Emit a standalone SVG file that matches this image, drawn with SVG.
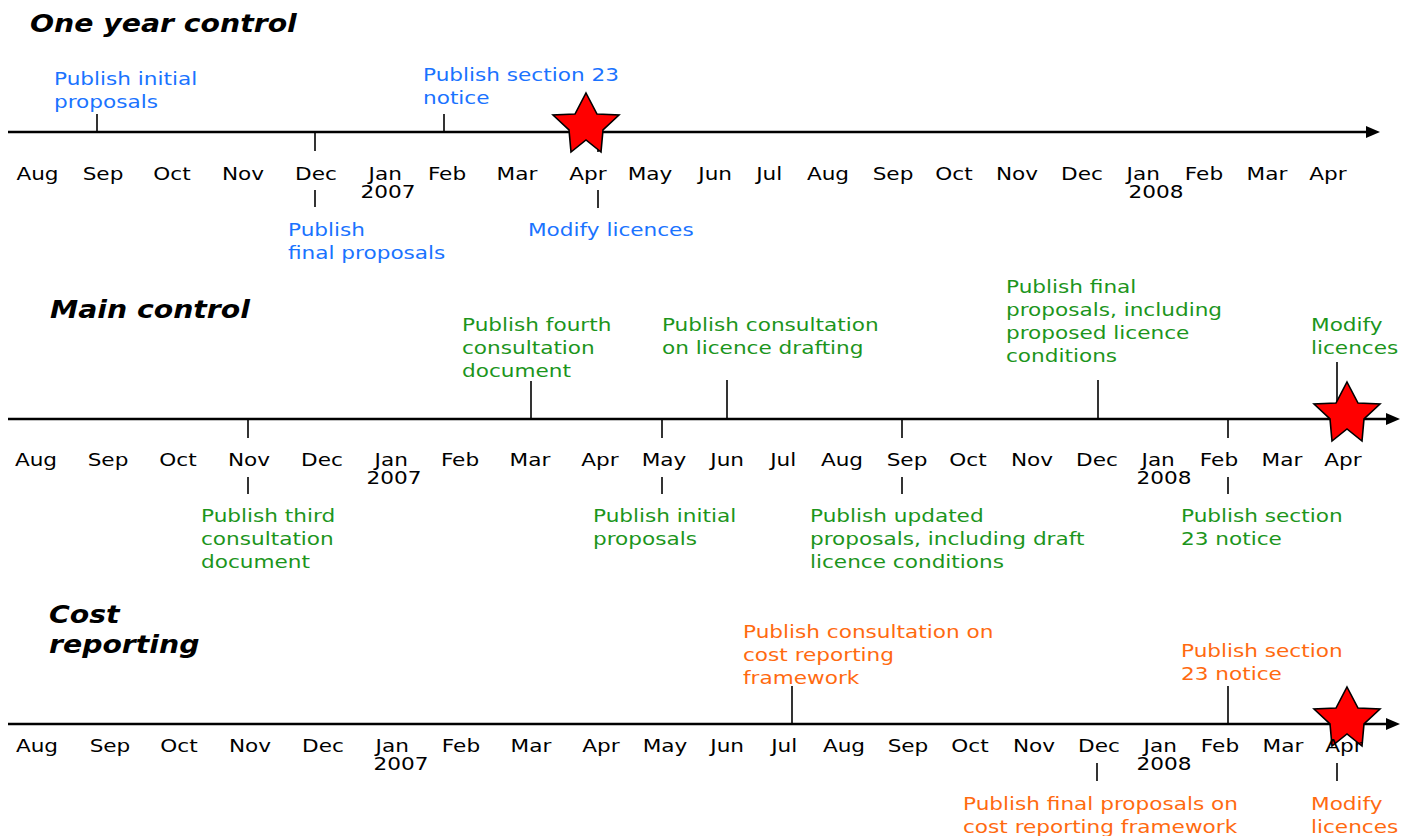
<svg xmlns="http://www.w3.org/2000/svg" width="1402" height="836" viewBox="0 0 1402 836">
<style>
text{font-family:"DejaVu Sans","Verdana",sans-serif;}
.t{font-size:24px;font-weight:bold;font-style:italic;fill:#000;transform-box:fill-box;transform-origin:0 50%;transform:scaleX(1.18);}
.m{font-size:18px;fill:#000;text-anchor:middle;transform-box:fill-box;transform-origin:50% 50%;transform:scaleX(1.2);}
.l{font-size:18px;transform-box:fill-box;transform-origin:0 50%;transform:scaleX(1.2);}
.b{fill:#1a73ff;}
.g{fill:#1c951c;}
.o{fill:#ff6a10;}
.ax{stroke:#000;stroke-width:2.6;fill:none;marker-end:url(#arr);}
.tk{stroke:#000;stroke-width:1.6;fill:none;}
.star{fill:#ff0000;stroke:#000;stroke-width:1.6;stroke-linejoin:miter;}
</style>
<defs>
<marker id="arr" markerUnits="userSpaceOnUse" markerWidth="16" markerHeight="14" refX="2" refY="6" orient="auto">
<path d="M0,0 L14,6 L0,12 Z" fill="#000"/>
</marker>
<path id="starShape" class="star" d="M0,-31 L11,-10 L33,-9 L17,6 L15,28 L0,16 L-15,28 L-17,6 L-33,-9 L-11,-10 Z"/>
</defs>
<rect width="1402" height="836" fill="#fff"/>

<!-- Titles -->
<g id="title-one-year"><text class="t" x="30" y="32">One year control</text></g>
<g id="title-main"><text class="t" x="50" y="318">Main control</text></g>
<g id="title-cost"><text class="t" x="49" y="623">Cost</text><text class="t" x="49" y="653">reporting</text></g>

<!-- Connectors: axes and ticks -->
<g id="connectors">
<line class="ax" x1="8" y1="132" x2="1368" y2="132"/>
<line class="ax" x1="8" y1="419" x2="1388" y2="419"/>
<line class="ax" x1="8" y1="724" x2="1388" y2="724"/>
<!-- row 1 -->
<line class="tk" x1="97" y1="114" x2="97" y2="132"/>
<line class="tk" x1="444" y1="114" x2="444" y2="132"/>
<line class="tk" x1="315" y1="132" x2="315" y2="151"/>
<line class="tk" x1="315" y1="190" x2="315" y2="207"/>
<line class="tk" x1="598" y1="132" x2="598" y2="152"/>
<line class="tk" x1="598" y1="190" x2="598" y2="208"/>
<!-- row 2 -->
<line class="tk" x1="531" y1="381" x2="531" y2="419"/>
<line class="tk" x1="727" y1="380" x2="727" y2="419"/>
<line class="tk" x1="1098" y1="380" x2="1098" y2="419"/>
<line class="tk" x1="1337" y1="362" x2="1337" y2="419"/>
<line class="tk" x1="248" y1="419" x2="248" y2="438"/>
<line class="tk" x1="248" y1="477" x2="248" y2="494"/>
<line class="tk" x1="662" y1="419" x2="662" y2="438"/>
<line class="tk" x1="662" y1="477" x2="662" y2="494"/>
<line class="tk" x1="902" y1="419" x2="902" y2="438"/>
<line class="tk" x1="902" y1="477" x2="902" y2="494"/>
<line class="tk" x1="1228" y1="419" x2="1228" y2="438"/>
<line class="tk" x1="1228" y1="477" x2="1228" y2="494"/>
<!-- row 3 -->
<line class="tk" x1="792" y1="686" x2="792" y2="724"/>
<line class="tk" x1="1228" y1="686" x2="1228" y2="724"/>
<line class="tk" x1="1097" y1="763" x2="1097" y2="781"/>
<line class="tk" x1="1337" y1="763" x2="1337" y2="781"/>
</g>

<!-- Stars -->
<g id="star-1"><use href="#starShape" transform="translate(586 124)"/></g>
<g id="star-2"><use href="#starShape" transform="translate(1347 413)"/></g>
<g id="star-3"><use href="#starShape" transform="translate(1347 718)"/></g>

<!-- Month axis labels -->
<g id="months-1">
<text class="m" x="37.5" y="180">Aug</text><text class="m" x="103" y="180">Sep</text><text class="m" x="172" y="180">Oct</text><text class="m" x="243" y="180">Nov</text><text class="m" x="316" y="180">Dec</text><text class="m" x="385" y="180">Jan</text><text class="m" x="388" y="198">2007</text><text class="m" x="447" y="180">Feb</text><text class="m" x="517" y="180">Mar</text><text class="m" x="588" y="180">Apr</text><text class="m" x="650" y="180">May</text><text class="m" x="715" y="180">Jun</text><text class="m" x="769" y="180">Jul</text><text class="m" x="828" y="180">Aug</text><text class="m" x="893" y="180">Sep</text><text class="m" x="954" y="180">Oct</text><text class="m" x="1017" y="180">Nov</text><text class="m" x="1082" y="180">Dec</text><text class="m" x="1143" y="180">Jan</text><text class="m" x="1156" y="198">2008</text><text class="m" x="1204" y="180">Feb</text><text class="m" x="1267" y="180">Mar</text><text class="m" x="1328" y="180">Apr</text>
</g>
<g id="months-2">
<text class="m" x="36" y="466">Aug</text><text class="m" x="108" y="466">Sep</text><text class="m" x="178" y="466">Oct</text><text class="m" x="249" y="466">Nov</text><text class="m" x="322" y="466">Dec</text><text class="m" x="391" y="466">Jan</text><text class="m" x="394" y="484">2007</text><text class="m" x="460" y="466">Feb</text><text class="m" x="530" y="466">Mar</text><text class="m" x="600" y="466">Apr</text><text class="m" x="664" y="466">May</text><text class="m" x="727" y="466">Jun</text><text class="m" x="783" y="466">Jul</text><text class="m" x="842" y="466">Aug</text><text class="m" x="907" y="466">Sep</text><text class="m" x="968" y="466">Oct</text><text class="m" x="1032" y="466">Nov</text><text class="m" x="1097" y="466">Dec</text><text class="m" x="1158" y="466">Jan</text><text class="m" x="1164" y="484">2008</text><text class="m" x="1219" y="466">Feb</text><text class="m" x="1282" y="466">Mar</text><text class="m" x="1343" y="466">Apr</text>
</g>
<g id="months-3">
<text class="m" x="37" y="752">Aug</text><text class="m" x="110" y="752">Sep</text><text class="m" x="179" y="752">Oct</text><text class="m" x="250" y="752">Nov</text><text class="m" x="323" y="752">Dec</text><text class="m" x="392" y="752">Jan</text><text class="m" x="401" y="770">2007</text><text class="m" x="461" y="752">Feb</text><text class="m" x="531" y="752">Mar</text><text class="m" x="601" y="752">Apr</text><text class="m" x="665" y="752">May</text><text class="m" x="727" y="752">Jun</text><text class="m" x="784" y="752">Jul</text><text class="m" x="844" y="752">Aug</text><text class="m" x="908" y="752">Sep</text><text class="m" x="970" y="752">Oct</text><text class="m" x="1034" y="752">Nov</text><text class="m" x="1099" y="752">Dec</text><text class="m" x="1160" y="752">Jan</text><text class="m" x="1164" y="770">2008</text><text class="m" x="1220" y="752">Feb</text><text class="m" x="1283" y="752">Mar</text><text class="m" x="1344" y="752">Apr</text>
</g>

<!-- Row 1 events (blue) -->
<g id="ev1-initial"><text class="l b" x="54" y="85">Publish initial</text><text class="l b" x="54" y="108">proposals</text></g>
<g id="ev1-s23"><text class="l b" x="423" y="81">Publish section 23</text><text class="l b" x="423" y="104">notice</text></g>
<g id="ev1-final"><text class="l b" x="288" y="236">Publish</text><text class="l b" x="288" y="259">final proposals</text></g>
<g id="ev1-modify"><text class="l b" x="528" y="236">Modify licences</text></g>

<!-- Row 2 events (green) -->
<g id="ev2-fourth"><text class="l g" x="462" y="331">Publish fourth</text><text class="l g" x="462" y="354">consultation</text><text class="l g" x="462" y="377">document</text></g>
<g id="ev2-drafting"><text class="l g" x="662" y="331">Publish consultation</text><text class="l g" x="662" y="354">on licence drafting</text></g>
<g id="ev2-final"><text class="l g" x="1006" y="293">Publish final</text><text class="l g" x="1006" y="316">proposals, including</text><text class="l g" x="1006" y="339">proposed licence</text><text class="l g" x="1006" y="362">conditions</text></g>
<g id="ev2-modify"><text class="l g" x="1311" y="331">Modify</text><text class="l g" x="1311" y="354">licences</text></g>
<g id="ev2-third"><text class="l g" x="201" y="522">Publish third</text><text class="l g" x="201" y="545">consultation</text><text class="l g" x="201" y="568">document</text></g>
<g id="ev2-initial"><text class="l g" x="593" y="522">Publish initial</text><text class="l g" x="593" y="545">proposals</text></g>
<g id="ev2-updated"><text class="l g" x="810" y="522">Publish updated</text><text class="l g" x="810" y="545">proposals, including draft</text><text class="l g" x="810" y="568">licence conditions</text></g>
<g id="ev2-s23"><text class="l g" x="1181" y="522">Publish section</text><text class="l g" x="1181" y="545">23 notice</text></g>

<!-- Row 3 events (orange) -->
<g id="ev3-consult"><text class="l o" x="743" y="638">Publish consultation on</text><text class="l o" x="743" y="661">cost reporting</text><text class="l o" x="743" y="684">framework</text></g>
<g id="ev3-s23"><text class="l o" x="1181" y="657">Publish section</text><text class="l o" x="1181" y="680">23 notice</text></g>
<g id="ev3-final"><text class="l o" x="963" y="810">Publish final proposals on</text><text class="l o" x="963" y="833">cost reporting framework</text></g>
<g id="ev3-modify"><text class="l o" x="1311" y="810">Modify</text><text class="l o" x="1311" y="833">licences</text></g>
</svg>
